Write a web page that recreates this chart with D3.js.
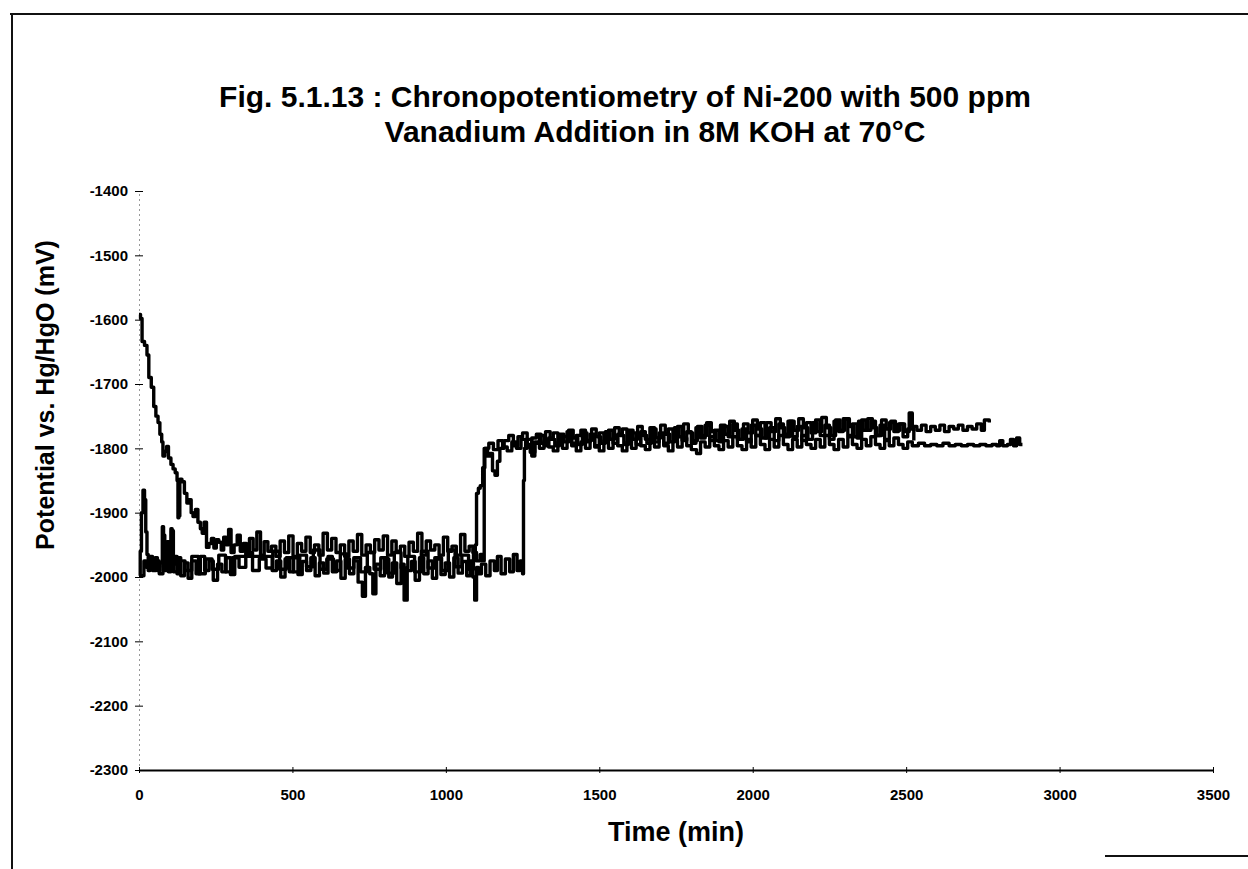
<!DOCTYPE html>
<html><head><meta charset="utf-8">
<script src="https://cdn.jsdelivr.net/npm/d3@7/dist/d3.min.js"></script>
<style>
html,body{margin:0;padding:0;background:#fff;}
svg{display:block;}
text{font-family:"Liberation Sans",Arial,sans-serif;font-weight:bold;fill:#000;}
</style></head>
<body><svg id="chart" width="1248" height="869"></svg>
<script>
const titleLines = ["Fig. 5.1.13 : Chronopotentiometry of Ni-200 with 500 ppm", "Vanadium Addition in 8M KOH at 70°C"];
const xLabel = "Time (min)";
const yLabel = "Potential vs. Hg/HgO (mV)";
const xTicks = [0, 500, 1000, 1500, 2000, 2500, 3000, 3500];
const yTicks = [-1400, -1500, -1600, -1700, -1800, -1900, -2000, -2100, -2200, -2300];

// Series 1: starts at -1590, decays, gradual jump near 1100, upper band afterwards
const series1 = [[0,-1592],[5,-1598],[10,-1634],[18,-1640],[26,-1655],[32,-1690],[40,-1705],[48,-1735],[55,-1750],[62,-1760],[68,-1778],[74,-1790],[78,-1812],[84,-1805],[90,-1797],[96,-1815],[104,-1825],[111,-1832],[118,-1838],[124,-1850],[127,-1908],[130,-1905],[133,-1848],[140,-1852],[148,-1870],[156,-1885],[162,-1880],[170,-1900],[176,-1906],[184,-1895],[192,-1915],[200,-1925],[206,-1932],[212,-1915],[220,-1954],[228,-1948],[236,-1940],[244,-1955],[252,-1942],[260,-1946],[268,-1958],[276,-1938],[284,-1950],[292,-1926],[300,-1962],[310,-1950],[320,-1935],[330,-1960],[340,-1948],[350,-1965],[360,-1940],[372,-1958],[384,-1930],[396,-1966],[408,-1945],[420,-1960],[432,-1952],[446,-1968],[460,-1944],[474,-1962],[488,-1936],[502,-1970],[516,-1948],[530,-1960],[544,-1938],[558,-1962],[572,-1950],[586,-1966],[600,-1932],[614,-1958],[628,-1940],[642,-1962],[656,-1950],[670,-1968],[684,-1944],[698,-1960],[712,-1934],[726,-1966],[740,-1950],[754,-1962],[768,-1942],[782,-1958],[796,-1936],[810,-1966],[824,-1944],[838,-1960],[852,-1952],[866,-1968],[880,-1946],[894,-1960],[908,-1932],[922,-1966],[936,-1944],[950,-1958],[964,-1950],[978,-1966],[992,-1938],[1006,-1960],[1020,-1952],[1034,-1966],[1048,-1934],[1062,-1960],[1076,-1952],[1088,-1962],[1096,-1950],[1100,-1870],[1106,-1862],[1112,-1858],[1120,-1830],[1127,-1800],[1136,-1812],[1144,-1808],[1152,-1835],[1160,-1842],[1168,-1820],[1176,-1800],
[1190,-1788],[1205,-1780],[1220,-1796],[1235,-1782],[1250,-1776],[1265,-1794],[1280,-1784],[1295,-1778],[1310,-1792],[1325,-1774],[1340,-1786],[1355,-1796],[1370,-1778],[1385,-1790],[1400,-1772],[1415,-1784],[1430,-1794],[1445,-1776],[1460,-1788],[1475,-1770],[1490,-1782],[1505,-1792],[1520,-1774],[1535,-1786],[1550,-1768],[1565,-1780],[1580,-1794],[1595,-1772],[1610,-1786],[1625,-1766],[1640,-1780],[1655,-1792],[1670,-1770],[1685,-1784],[1700,-1764],[1715,-1778],[1730,-1790],[1745,-1768],[1760,-1782],[1775,-1762],[1790,-1776],[1805,-1788],[1820,-1766],[1835,-1780],[1850,-1760],[1865,-1774],[1880,-1788],[1895,-1764],[1910,-1778],[1925,-1758],[1940,-1772],[1955,-1786],[1970,-1762],[1985,-1776],[2000,-1756],[2015,-1770],[2030,-1784],[2045,-1760],[2060,-1774],[2075,-1754],[2090,-1768],[2105,-1782],[2120,-1758],[2135,-1772],[2150,-1754],[2165,-1768],[2180,-1786],[2195,-1760],[2210,-1774],[2225,-1752],[2240,-1768],[2255,-1780],[2270,-1756],[2285,-1772],[2300,-1754],[2315,-1766],[2330,-1782],[2345,-1758],[2360,-1772],[2375,-1754],[2390,-1768],[2405,-1780],[2420,-1756],[2435,-1770],[2450,-1758],[2465,-1772],[2480,-1762],[2495,-1774],[2510,-1745],[2520,-1766],[2535,-1772],[2550,-1764],[2565,-1774],[2580,-1766],[2595,-1772],[2610,-1764],[2625,-1774],[2640,-1766],[2655,-1770],[2670,-1764],[2685,-1772],[2700,-1766],[2715,-1770],[2730,-1762],[2745,-1772],[2755,-1756],[2771,-1760]];

// Series 2: start spike to -1865, lower band, sharp jump near 1125, lower band afterwards, longest run
const series2 = [[0,-1998],[4,-1960],[8,-1900],[13,-1865],[18,-1880],[22,-1930],[26,-1965],[30,-1990],[36,-1975],[44,-1985],[52,-1970],[60,-1990],[68,-1978],[76,-1922],[80,-1985],[88,-1970],[96,-1992],[104,-1925],[108,-1980],[116,-1968],[124,-1995],[130,-1975],[150,-1990],[172,-1968],[194,-1995],[216,-1972],[238,-1988],[260,-1966],[282,-1992],[304,-1970],[326,-1985],[348,-1962],[370,-1990],[392,-1972],[414,-1986],[436,-1960],[458,-1988],[480,-1970],[502,-1992],[524,-1966],[546,-1984],[568,-1958],[590,-1988],[612,-1972],[634,-1990],[656,-1964],[678,-1986],[700,-1970],[722,-1992],[744,-1962],[766,-1988],[788,-1970],[810,-1994],[832,-1962],[854,-1986],[876,-1968],[898,-1992],[920,-1960],[942,-1986],[964,-1970],[986,-1990],[1008,-1958],[1030,-1984],[1052,-1966],[1074,-1988],[1090,-1962],[1100,-1975],[1112,-1965],[1120,-1975],
[1125,-1800],[1140,-1792],[1155,-1802],[1170,-1788],[1185,-1798],[1200,-1804],[1215,-1790],[1230,-1800],[1245,-1786],[1260,-1798],[1275,-1806],[1290,-1792],[1305,-1800],[1320,-1788],[1335,-1798],[1350,-1804],[1365,-1790],[1380,-1800],[1395,-1786],[1410,-1796],[1425,-1804],[1440,-1790],[1455,-1800],[1470,-1786],[1485,-1798],[1500,-1804],[1515,-1788],[1530,-1800],[1545,-1784],[1560,-1796],[1575,-1804],[1590,-1790],[1605,-1800],[1620,-1784],[1635,-1796],[1650,-1802],[1665,-1788],[1680,-1798],[1695,-1782],[1710,-1796],[1725,-1804],[1740,-1788],[1755,-1798],[1770,-1784],[1785,-1796],[1800,-1802],[1817,-1808],[1830,-1790],[1845,-1798],[1860,-1782],[1875,-1796],[1890,-1802],[1905,-1788],[1920,-1798],[1935,-1782],[1950,-1796],[1965,-1802],[1980,-1786],[1995,-1798],[2010,-1780],[2025,-1794],[2040,-1802],[2055,-1786],[2070,-1798],[2085,-1780],[2100,-1794],[2115,-1802],[2130,-1786],[2145,-1798],[2160,-1780],[2175,-1794],[2190,-1800],[2205,-1786],[2220,-1798],[2235,-1780],[2250,-1794],[2265,-1802],[2280,-1786],[2295,-1798],[2310,-1782],[2325,-1794],[2340,-1800],[2355,-1786],[2370,-1796],[2385,-1782],[2400,-1794],[2415,-1800],[2430,-1788],[2445,-1796],[2460,-1784],[2475,-1794],[2490,-1800],[2505,-1790],[2520,-1796],[2540,-1792],[2560,-1796],[2580,-1794],[2600,-1796],[2620,-1792],[2640,-1796],[2660,-1794],[2680,-1796],[2700,-1794],[2720,-1796],[2740,-1794],[2760,-1796],[2780,-1794],[2795,-1796],[2805,-1788],[2815,-1796],[2830,-1794],[2840,-1786],[2850,-1796],[2860,-1784],[2870,-1794],[2879,-1794]];

// Series 3: flat start, deep dips, late jump near 1253, middle band afterwards
const series3 = [[0,-1999],[10,-1998],[16,-1975],[24,-1985],[34,-1968],[44,-1990],[56,-1975],[66,-1995],[78,-1935],[84,-1990],[92,-1945],[100,-1985],[106,-1928],[112,-1992],[124,-1970],[136,-1998],[148,-1978],[160,-2002],[172,-1975],[186,-1995],[200,-1968],[214,-1990],[228,-1975],[242,-2005],[256,-1980],[270,-1992],[284,-1970],[298,-1996],[312,-1968],[326,-1968],[420,-1968],[434,-1990],[448,-1975],[462,-2000],[476,-1972],[490,-1992],[504,-1968],[518,-1996],[532,-1976],[546,-1990],[560,-1970],[574,-1998],[588,-1978],[602,-1994],[616,-1968],[630,-1992],[644,-1975],[658,-2002],[672,-1972],[686,-1995],[700,-1975],[714,-2008],[728,-2030],[738,-1985],[752,-1995],[762,-2026],[772,-1980],[786,-1998],[800,-1972],[814,-2000],[826,-1978],[840,-2010],[854,-1980],[864,-2036],[874,-1990],[888,-1976],[900,-2005],[914,-1970],[928,-1995],[942,-1975],[956,-2002],[970,-1972],[984,-1996],[998,-1978],[1012,-2000],[1026,-1970],[1040,-1994],[1054,-1976],[1068,-1998],[1080,-1975],[1088,-2000],[1094,-2036],[1100,-1985],[1106,-1995],[1116,-1980],[1130,-1998],[1144,-1975],[1158,-1990],[1168,-1968],[1180,-1995],[1194,-1972],[1208,-1992],[1220,-1965],[1232,-1990],[1242,-1975],[1250,-1995],
[1253,-1850],[1256,-1800],[1265,-1786],[1280,-1812],[1290,-1790],[1305,-1780],[1320,-1796],[1335,-1784],[1350,-1776],[1365,-1794],[1380,-1782],[1395,-1774],[1410,-1792],[1425,-1780],[1440,-1772],[1455,-1790],[1470,-1778],[1485,-1796],[1500,-1776],[1515,-1788],[1530,-1772],[1545,-1792],[1560,-1778],[1575,-1770],[1590,-1790],[1605,-1776],[1620,-1794],[1635,-1774],[1650,-1786],[1665,-1768],[1680,-1790],[1695,-1776],[1710,-1792],[1725,-1770],[1740,-1786],[1755,-1766],[1770,-1788],[1785,-1774],[1800,-1792],[1815,-1768],[1830,-1784],[1845,-1764],[1860,-1788],[1875,-1772],[1890,-1790],[1905,-1766],[1920,-1782],[1935,-1762],[1950,-1786],[1965,-1770],[1980,-1790],[1995,-1764],[2010,-1780],[2025,-1760],[2040,-1784],[2055,-1768],[2070,-1788],[2085,-1762],[2100,-1778],[2115,-1758],[2130,-1782],[2145,-1766],[2160,-1788],[2175,-1760],[2190,-1776],[2205,-1756],[2220,-1780],[2235,-1764],[2250,-1786],[2265,-1758],[2280,-1774],[2295,-1754],[2310,-1780],[2325,-1762],[2340,-1784],[2355,-1756],[2370,-1772],[2385,-1758],[2400,-1780],[2415,-1764],[2430,-1786],[2445,-1760],[2460,-1774],[2475,-1762],[2490,-1782],[2505,-1770],[2525,-1788]];

const allSeries = [series1, series2, series3];

const svg = d3.select("#chart");
const W = 1248, H = 869;
const plot = {left: 139, right: 1213, top: 191, bottom: 770};

// frame
svg.append("line").attr("x1", 10).attr("x2", W).attr("y1", 14).attr("y2", 14).attr("stroke", "#111").attr("stroke-width", 2);
svg.append("line").attr("x1", 12).attr("x2", 12).attr("y1", 14).attr("y2", H).attr("stroke", "#111").attr("stroke-width", 2);
svg.append("line").attr("x1", 1105).attr("x2", W).attr("y1", 856).attr("y2", 856).attr("stroke", "#111").attr("stroke-width", 2);

const x = d3.scaleLinear().domain([0, 3500]).range([plot.left, plot.right]);
const y = d3.scaleLinear().domain([-2300, -1400]).range([plot.bottom, plot.top]);
const fmt = d => String(d);

// title
const titleX = [625, 655];
svg.append("g").selectAll("text").data(titleLines).join("text")
  .attr("x", (d, i) => titleX[i]).attr("y", (d, i) => 107 + i * 35)
  .attr("text-anchor", "middle").style("font-size", "30px").text(d => d);

// y axis
const yAxis = d3.axisLeft(y).tickValues(yTicks).tickSize(0).tickPadding(11).tickFormat(fmt);
const gy = svg.append("g").attr("transform", `translate(${plot.left},0)`).call(yAxis);
gy.select(".domain").attr("stroke", "#333").attr("stroke-width", 1).attr("stroke-dasharray", "1,4");
gy.selectAll(".tick text").style("font-size", "15px");
gy.selectAll(".tick").append("line").attr("x1", -4).attr("x2", 4).attr("stroke", "#000").attr("stroke-width", 1);

// x axis
const xAxis = d3.axisBottom(x).tickValues(xTicks).tickSize(0).tickPadding(19).tickFormat(fmt);
const gx = svg.append("g").attr("transform", `translate(0,${plot.bottom})`).call(xAxis);
gx.select(".domain").attr("stroke", "#000").attr("stroke-width", 2);
gx.selectAll(".tick text").style("font-size", "15px");
gx.selectAll(".tick").append("line").attr("y1", -3).attr("y2", 3).attr("stroke", "#000").attr("stroke-width", 1);

// axis titles
svg.append("text").attr("x", x(1750)).attr("y", 841).attr("text-anchor", "middle").style("font-size", "27px").text(xLabel);
svg.append("text").attr("transform", "translate(54,395) rotate(-90)").attr("text-anchor", "middle").style("font-size", "25px").text(yLabel);

// data lines
const line = d3.line().x(d => x(d[0])).y(d => y(d[1])).curve(d3.curveStepAfter);
svg.append("g").selectAll("path").data(allSeries).join("path")
  .attr("d", line).attr("fill", "none").attr("stroke", "#000").attr("stroke-width", 3.4).attr("stroke-linejoin", "round");
</script>
</body></html>
